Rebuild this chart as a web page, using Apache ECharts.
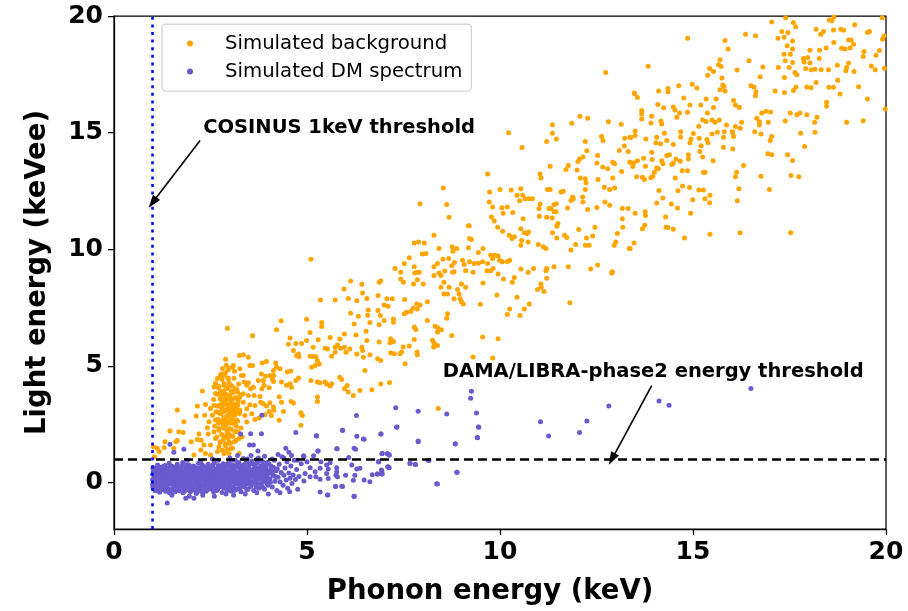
<!DOCTYPE html>
<html>
<head>
<meta charset="utf-8">
<script src="https://cdn.jsdelivr.net/npm/echarts@6/dist/echarts.min.js"></script>
<style>
  html, body { margin: 0; padding: 0; background: #fff; }
  #chart { width: 908px; height: 611px; }
</style>
</head>
<body>
<div id="chart"></div>
<script>
// ---- Axis ranges and ticks ----
const xRange = [0, 20];
const yRange = [-2, 20];
const xTicks = [0, 5, 10, 15, 20];
const yTicks = [0, 5, 10, 15, 20];

// ---- Thresholds (keV / keVee) ----
const cosinusThreshold = 1.0;
const damaThreshold = 1.0;

// ---- Annotations: text anchor and arrow [from, to] ----
const cosinusText = 'COSINUS 1keV threshold';
const cosinusTextAt = [2.31, 15.2];
const cosinusArrow = [[2.23, 14.66], [1.0, 12.0]];
const damaText = 'DAMA/LIBRA-phase2 energy threshold';
const damaTextAt = [8.52, 4.74];
const damaArrow = [[13.93, 4.15], [12.9, 1.0]];

// ---- Simulated background, upper right part of the band ----
const bgHigh = [
[17.04,19.74],[17.40,19.93],[17.60,19.72],[17.66,19.54],[18.53,19.83],[18.60,19.80],[18.65,19.96],[19.90,19.93],[16.36,19.22],[16.62,19.15],
[17.30,19.33],[17.46,19.29],[17.20,19.05],[17.36,19.09],[17.58,18.93],[18.19,19.43],[18.31,19.22],[18.38,19.33],[18.64,19.40],[18.83,19.43],
[18.90,19.39],[19.19,19.62],[19.52,19.29],[19.57,19.33],[19.95,19.15],[19.91,19.0],[14.86,19.05],[15.83,18.95],[15.91,18.58],[17.44,18.72],
[17.58,18.58],[18.65,18.86],[19.03,18.97],[19.10,18.97],[18.85,18.62],[18.94,18.58],[19.07,18.63],[19.16,18.79],[18.45,18.63],[18.28,18.53],
[18.03,18.53],[19.43,18.48],[19.41,18.26],[19.74,18.32],[19.83,18.52],[17.36,18.36],[17.39,18.08],[17.52,18.36],[17.86,18.18],[17.97,18.22],
[17.88,18.03],[18.03,17.98],[18.27,18.18],[17.58,18.01],[17.49,17.79],[17.21,17.79],[17.37,17.36],[17.64,17.58],[17.69,17.48],[17.92,17.75],
[18.06,17.69],[18.16,17.72],[18.32,17.69],[18.51,17.69],[18.74,17.89],[18.96,17.65],[18.98,17.79],[19.03,17.98],[19.17,17.62],[19.62,17.86],
[19.72,17.69],[19.96,17.76],[15.70,18.12],[15.73,17.83],[15.43,17.75],[15.53,17.62],[15.38,17.46],[15.66,17.91],[15.75,17.34],[16.14,17.68],
[16.45,18.08],[16.81,17.81],[16.74,17.39],[13.84,17.85],[14.98,17.07],[15.10,16.91],[14.63,17.01],[14.35,16.89],[14.35,16.75],[14.11,16.78],
[13.49,16.67],[13.56,16.51],[15.77,17.04],[15.70,16.84],[15.83,16.78],[15.80,16.98],[16.50,17.01],[16.58,16.95],[16.63,16.75],[16.62,16.58],
[17.13,16.78],[17.37,16.72],[17.67,16.95],[17.60,16.81],[17.95,16.95],[18.06,16.92],[18.19,17.15],[18.52,16.94],[18.64,16.94],[18.75,17.24],
[18.81,16.65],[19.29,16.97],[19.52,16.44],[19.98,16.01],[14.76,16.48],[14.49,16.10],[14.53,15.97],[14.24,16.07],[14.09,16.21],[13.67,15.95],
[13.67,15.80],[13.67,15.58],[13.93,15.70],[13.91,15.41],[14.17,15.50],[14.19,15.37],[14.92,16.18],[15.20,16.18],[14.86,15.87],[14.58,15.66],
[14.65,15.84],[15.37,15.84],[15.53,16.08],[15.60,16.44],[15.34,16.44],[16.05,16.38],[16.10,16.18],[16.20,16.08],[15.15,15.27],[15.25,15.54],
[15.34,15.48],[15.49,15.54],[15.57,15.44],[15.68,15.54],[15.63,15.01],[15.87,15.33],[15.81,15.04],[16.02,15.04],[16.10,15.26],[16.26,15.44],
[16.22,15.19],[16.65,15.61],[16.72,15.47],[16.72,15.33],[16.60,15.04],[16.76,14.94],[16.78,15.84],[16.89,15.91],[17.01,15.88],[16.95,15.44],
[17.39,15.50],[17.52,15.84],[17.69,15.77],[17.77,15.84],[17.95,15.77],[18.15,15.44],[18.16,15.01],[18.21,15.66],[18.46,16.30],[18.46,16.13],
[18.98,15.44],[19.41,15.51],[17.79,14.97],[17.89,14.40],[13.50,15.07],[13.50,14.87],[13.78,14.73],[14.06,14.80],[14.04,14.56],[14.16,14.52],
[14.26,14.97],[14.32,14.66],[14.49,14.49],[14.68,15.04],[14.68,14.81],[15.01,14.96],[14.95,14.73],[14.92,14.56],[15.16,14.76],[15.21,14.44],
[15.36,14.70],[15.39,14.56],[15.49,14.94],[15.79,14.37],[15.79,14.80],[16.03,14.99],[16.05,14.83],[16.03,14.30],[17.04,14.83],[17.00,14.66],
[16.94,14.09],[17.04,14.05],[17.45,14.05],[17.58,13.80],[16.31,13.59],[16.13,13.30],[16.10,13.11],[16.19,12.59],[16.15,12.08],[16.22,10.71],
[16.76,13.13],[16.98,12.56],[17.54,13.16],[17.74,13.11],[17.53,10.71],[13.37,14.80],[13.37,13.73],[13.44,13.55],[13.54,13.11],[13.56,13.79],
[13.72,13.90],[13.69,13.08],[13.74,12.99],[13.77,13.56],[13.93,14.16],[13.94,13.85],[13.91,13.06],[13.96,13.13],[14.00,13.30],[14.06,13.48],
[14.10,13.45],[14.19,13.79],[14.22,13.66],[14.32,14.02],[14.39,14.05],[14.45,13.63],[14.49,13.70],[14.54,13.05],[14.56,13.87],[14.67,13.77],
[14.72,13.36],[14.86,13.36],[14.88,13.87],[14.88,14.05],[15.18,14.19],[15.25,13.95],[15.27,13.30],[15.31,13.30],[15.52,13.79],[14.73,12.71],
[14.61,12.51],[14.91,12.65],[14.99,12.12],[15.15,12.54],[15.27,12.54],[15.44,12.31],[15.43,11.99],[15.31,12.16],[14.44,11.94],[14.60,11.77],
[14.06,11.98],[14.12,12.52],[14.22,12.19],[14.29,11.38],[14.30,10.94],[14.35,10.93],[14.49,10.85],[14.78,10.48],[14.94,11.54],[15.44,10.64],
[13.76,11.60],[13.77,11.44],[13.75,11.03],[13.69,10.88],[13.50,11.54],[13.47,10.26],[13.37,10.03]
];

// ---- Simulated background, middle of the band ----
const bgMid = [
[12.74,17.58],[13.48,16.70],[10.22,14.99],[10.57,14.36],[11.36,15.34],[11.36,14.97],[11.46,14.73],[11.21,14.62],[11.86,15.40],[12.07,15.70],
[12.27,15.61],[12.81,15.47],[13.14,15.36],[12.63,14.83],[12.67,14.66],[12.21,14.62],[12.25,14.22],[13.23,14.76],[13.39,14.79],[13.22,14.42],
[13.09,14.23],[13.32,14.19],[12.06,13.87],[12.02,13.76],[12.15,13.95],[12.53,14.02],[12.51,13.70],[12.66,13.52],[12.79,13.45],[12.92,13.73],
[12.97,13.66],[13.15,13.33],[13.37,13.73],[13.46,13.70],[11.77,13.59],[11.71,13.42],[12.00,13.40],[11.30,13.56],[11.04,13.22],[11.06,13.05],
[9.68,13.22],[12.08,13.05],[12.21,13.02],[12.23,12.85],[12.54,12.99],[12.70,12.66],[12.92,13.05],[12.84,12.56],[12.97,12.62],[13.32,11.74],
[8.53,12.62],[7.93,11.95],[8.62,11.92],[8.68,11.37],[9.18,11.01],[9.73,12.45],[9.72,12.02],[10.00,12.56],[10.29,12.54],[10.54,12.59],
[10.44,12.31],[10.59,12.31],[10.51,12.08],[10.65,12.16],[10.75,12.16],[10.84,12.16],[9.81,11.81],[9.78,11.38],[9.85,11.21],[10.05,11.78],
[10.19,11.81],[10.33,11.57],[10.08,11.54],[9.94,10.94],[10.07,10.77],[10.24,10.60],[10.31,10.46],[10.37,10.53],[10.54,10.88],[10.60,11.31],
[10.63,10.71],[10.70,10.67],[10.74,10.74],[10.56,10.37],[10.54,10.17],[10.73,10.31],[11.01,11.74],[11.02,11.41],[11.04,11.94],[11.23,12.56],
[11.30,12.56],[11.27,11.74],[11.32,11.74],[11.21,11.37],[11.35,11.34],[11.40,11.92],[11.46,11.95],[11.45,11.60],[11.40,11.60],[11.47,10.98],
[11.50,11.10],[11.36,10.70],[11.47,10.48],[11.58,12.45],[11.64,12.48],[11.88,12.24],[11.84,12.09],[11.75,11.77],[11.90,12.16],[12.14,12.24],
[12.15,12.02],[12.21,12.56],[12.27,11.70],[12.51,11.79],[12.72,12.02],[12.84,11.88],[13.17,11.74],[13.17,11.31],[13.18,10.94],[13.04,10.67],
[13.00,10.31],[12.96,10.17],[13.35,10.03],[12.90,8.99],[12.46,10.94],[12.40,10.57],[12.24,10.48],[12.21,10.17],[12.31,10.17],[12.04,10.84],
[11.96,10.20],[11.84,9.96],[11.67,10.60],[11.73,10.50],[11.77,9.25],[11.21,9.17],[11.40,9.25],[12.53,9.32],[12.91,9.03],[10.87,9.17],
[10.99,10.20],[11.12,10.10],[11.19,10.03],[9.56,10.03],[9.44,9.86],[9.20,11.00],[9.21,10.46],[9.26,10.41],[9.18,10.06],[8.88,10.03],
[8.76,10.10],[8.78,9.91],[8.67,9.60],[8.42,10.03],[8.29,10.60],[8.52,9.57],[8.82,9.43],[9.03,9.52],[9.07,9.34],[9.21,9.46],
[9.33,9.39],[9.44,9.40],[9.55,9.46],[9.68,9.39],[9.76,9.74],[9.81,9.60],[9.87,9.74],[9.95,9.71],[9.99,9.53],[10.06,9.46],
[10.19,9.46],[10.25,9.53],[9.82,9.17],[8.04,10.26],[7.99,9.79],[8.08,9.81],[7.78,10.27],[7.89,10.31],[7.65,9.63],[7.78,9.25],
[7.86,9.00],[7.52,9.39],[7.28,9.17],[8.38,9.39],[8.29,9.25],[8.57,9.06],[8.81,9.03],[8.75,9.29]
];

// ---- Simulated background, lower middle of the band ----
const bgLow = [
[6.87,8.58],[6.91,8.65],[6.84,8.01],[7.00,7.61],[7.07,7.87],[7.10,7.55],[7.21,7.87],[6.84,7.37],[6.90,7.16],[6.87,6.76],
[7.00,6.94],[7.24,7.01],[7.24,6.87],[7.17,6.16],[7.24,6.04],[7.15,5.99],[6.87,6.02],[7.17,5.56],[7.26,5.52],[7.41,5.52],
[6.83,5.30],[6.91,5.23],[7.43,9.01],[7.50,8.58],[7.43,8.72],[7.76,8.51],[7.79,8.98],[7.86,8.69],[8.01,8.51],[7.91,9.01],
[7.53,7.84],[7.58,7.30],[7.52,7.23],[7.69,7.33],[7.75,7.47],[7.84,7.65],[7.93,7.61],[7.86,7.44],[7.78,6.66],[7.82,6.56],
[7.78,6.13],[7.65,5.85],[7.49,5.80],[7.45,5.59],[7.85,5.59],[7.86,5.47],[7.54,5.09],[8.12,6.94],[8.12,7.75],[8.29,8.87],
[8.42,8.98],[8.47,8.87],[8.55,8.58],[8.68,8.37],[8.47,8.37],[8.55,8.08],[8.64,8.08],[8.81,7.87],[8.97,7.87],[9.00,7.75],
[9.05,7.65],[8.94,8.08],[9.00,8.51],[9.11,8.37],[8.90,8.27],[8.77,9.01],[9.11,9.08],[9.30,9.01],[9.56,8.55],[9.66,9.08],
[9.76,9.08],[9.95,8.94],[9.92,8.04],[9.49,7.64],[8.64,7.23],[8.62,7.04],[8.32,6.70],[8.38,6.64],[8.48,6.54],[8.38,6.44],
[8.25,6.09],[8.29,5.99],[8.28,5.80],[8.38,5.87],[8.75,6.30],[9.55,6.23],[9.95,6.16],[9.30,5.38],[9.81,5.33],[6.91,4.22],
[7.14,4.28],[8.40,3.17],[10.09,8.72],[10.32,8.58],[10.37,8.79],[10.44,7.94],[10.54,9.15],[10.73,9.01],[10.76,7.65],[10.63,7.44],
[10.52,7.16],[10.19,7.20],[10.25,7.44],[10.97,8.27],[11.06,8.51],[11.07,8.37],[11.14,8.18],[11.21,8.75],[11.19,9.08],[11.81,7.70],
[12.35,9.15],[12.89,8.98]
];

// ---- Simulated background, rising part above 3 keV ----
const bgRise = [
[5.10,9.57],[4.33,6.93],[4.21,6.55],[3.59,6.29],[4.99,7.00],[5.35,7.82],[5.73,7.82],[5.38,6.86],[5.38,6.68],[4.56,6.19],
[4.52,5.92],[4.71,5.96],[4.86,5.96],[4.99,6.08],[5.08,6.43],[5.29,6.12],[5.16,5.79],[5.60,6.21],[5.85,6.15],[5.97,6.36],
[6.07,7.89],[6.13,8.64],[5.96,8.29],[6.42,8.50],[6.44,8.12],[6.29,7.79],[6.13,7.25],[6.33,7.12],[6.22,6.79],[6.27,6.32],
[6.55,7.89],[6.59,7.39],[6.57,7.17],[6.63,6.86],[6.53,6.48],[6.55,6.08],[5.97,5.79],[5.79,5.89],[5.73,5.79],[5.73,5.58],
[5.87,5.75],[5.64,5.41],[5.53,5.72],[5.47,5.75],[6.11,5.72],[6.01,5.58],[6.42,5.79],[6.44,5.65],[6.29,5.51],[6.46,5.37],
[6.63,5.47],[5.08,5.41],[5.16,5.41],[5.23,5.39],[5.27,5.22],[5.32,5.08],[5.21,5.01],[5.12,4.94],[4.78,5.51],[4.73,5.44],
[4.65,5.65],[4.79,5.39],[4.58,4.78],[4.49,4.73],[4.78,4.48],[4.71,4.37],[4.56,4.23],[4.47,4.16],[4.60,4.08],[4.34,4.30],
[4.19,5.12],[4.21,4.94],[4.13,4.80],[4.30,4.87],[4.14,4.58],[3.95,5.18],[3.84,5.12],[3.82,4.65],[3.74,4.37],[3.87,4.37],
[3.93,4.55],[4.04,4.58],[4.10,4.44],[4.13,4.33],[4.02,4.06],[3.89,4.16],[3.83,4.01],[3.78,3.68],[3.80,3.44],[3.87,3.37],
[4.04,3.41],[4.13,3.23],[4.14,3.09],[4.02,3.04],[3.95,3.27],[4.34,3.44],[4.28,3.67],[4.39,3.04],[4.59,3.47],[4.65,3.40],
[4.84,2.99],[4.88,2.87],[4.84,2.45],[4.28,2.66],[3.76,2.76],[3.91,2.90],[4.08,2.87],[5.10,4.37],[5.27,4.30],[5.34,4.27],
[5.47,4.30],[5.51,4.21],[5.64,4.23],[5.60,4.13],[5.27,3.66],[5.27,3.47],[5.85,4.51],[5.90,4.41],[6.04,4.15],[5.97,4.01],
[6.07,3.87],[6.20,3.73],[6.37,3.94],[6.68,3.97],[6.50,4.80],[3.35,5.47],[3.48,5.37],[3.25,5.44],[3.09,5.01],[3.26,4.87],
[3.52,5.01],[3.59,5.01],[3.35,4.58],[3.37,4.30],[3.48,4.27],[3.44,4.16],[3.54,4.01],[3.61,4.08],[3.63,3.73],[3.48,3.73],
[3.35,3.80],[3.26,3.66],[3.35,3.44],[3.52,3.33],[3.65,3.30],[3.44,3.16],[3.39,2.87],[3.57,2.94],[3.65,2.70],[3.26,3.09],
[3.18,2.66],[3.44,2.59]
];

// ---- Simulated background, low-energy part below 3.4 keV ----
const bgLeft = [
[2.94,6.61],[2.29,3.92],[2.16,3.27],[2.13,2.85],[2.37,3.34],[2.35,2.88],[2.46,2.60],[2.42,2.34],[2.16,1.84],[2.26,1.81],
[2.33,1.60],[2.50,1.60],[2.44,2.07],[2.59,4.09],[2.63,3.81],[2.68,4.45],[2.76,4.59],[2.89,5.28],[2.91,5.02],[2.81,4.88],
[2.98,4.88],[2.85,4.24],[2.94,4.02],[2.75,3.59],[2.81,3.31],[2.59,3.31],[2.50,3.17],[2.55,2.88],[2.68,3.02],[2.63,2.67],
[2.76,2.63],[2.72,2.31],[2.59,2.17],[2.63,1.88],[2.76,1.74],[2.72,1.53],[2.68,1.32],[2.85,1.24],[2.94,1.39],[2.89,1.63],
[2.85,1.96],[2.94,2.17],[2.85,2.45],[2.92,2.81],[2.88,3.10],[2.94,3.31],[2.98,3.67],[2.89,3.59],[2.81,3.88],[2.72,4.02],
[2.85,4.59],[2.95,4.45],[2.98,4.16],[2.98,3.02],[2.98,2.60],[2.98,1.74],[2.50,1.17],[1.81,2.60],[1.64,3.10],[1.79,2.14],
[1.68,2.17],[1.45,2.20],[1.60,1.74],[1.64,1.79],[1.55,1.46],[1.32,1.74],[1.30,1.49],[1.12,1.46],[1.17,1.32],[1.02,1.53],
[1.05,1.10],[2.20,2.07],[2.00,1.74],[2.07,1.17],[2.25,1.39],[2.37,1.24],[3.11,1.74],[3.02,2.03],[3.07,1.46],[3.20,2.17],
[3.32,1.96],[2.98,1.24],[3.24,1.24]
];

// ---- Simulated background, dense core of the low-energy cluster ----
const bgCore = [
[2.58,3.55],[2.61,2.42],[2.64,3.02],[2.66,1.95],[2.68,3.78],[2.69,2.71],[2.71,4.12],[2.72,2.23],[2.74,3.31],[2.75,1.71],
[2.77,2.93],[2.78,3.66],[2.79,2.05],[2.80,4.41],[2.81,2.58],[2.82,3.14],[2.83,1.82],[2.84,3.92],[2.85,2.77],[2.86,2.31],
[2.87,3.47],[2.88,4.68],[2.89,1.56],[2.90,3.07],[2.91,2.49],[2.92,4.03],[2.93,2.12],[2.94,3.58],[2.95,2.86],[2.96,1.90],
[2.97,3.23],[2.98,4.27],[2.99,2.64],[3.00,3.71],[3.01,1.67],[3.02,2.97],[3.03,3.44],[3.04,2.28],[3.05,4.14],[3.06,2.72],
[3.07,3.85],[3.08,1.98],[3.09,3.12],[3.10,2.51],[3.11,4.46],[3.12,3.36],[3.13,2.18],[3.14,2.89],[3.15,3.63],[3.16,1.79],
[3.17,2.41],[3.18,3.98],[3.19,3.03],[3.20,2.63],[3.22,3.51],[3.23,4.22],[3.25,2.95],[3.27,3.75],[3.29,2.33],[3.30,4.58],
[2.73,2.99],[2.76,3.84],[2.80,3.42],[2.83,2.41],[2.87,3.79],[2.90,2.78],[2.93,3.34],[2.96,4.48],[2.99,3.07],[3.02,2.55],
[3.05,3.57],[3.08,2.86],[3.11,3.27],[3.14,4.02],[3.17,3.21],[3.20,3.87],[2.77,3.22],[2.85,4.15],[2.92,3.76],[2.98,2.31],
[3.04,3.92],[3.10,2.98],[3.16,2.60],[3.21,3.33],[2.67,3.28],[2.71,2.55],[2.78,4.65],[2.86,1.95],[2.95,4.82],[3.03,1.45],
[3.12,4.77],[3.24,1.88],[2.63,4.25],[2.81,1.38],[3.07,4.95],[2.96,2.06],[2.89,2.62],[3.01,3.25],[2.84,3.03],[3.13,3.62]
];

// ---- Simulated DM spectrum, main blob just above threshold ----
const dmBlob = [
[1.00,0.12],[1.01,-0.22],[1.02,0.45],[1.03,-0.05],[1.04,0.31],[1.05,0.62],[1.06,-0.35],[1.07,0.18],[1.08,0.02],[1.09,0.52],
[1.10,-0.15],[1.12,0.35],[1.13,0.74],[1.14,-0.28],[1.15,0.08],[1.17,0.48],[1.18,-0.42],[1.19,0.22],[1.20,-0.08],[1.22,0.65],
[1.23,0.38],[1.24,-0.20],[1.25,0.12],[1.27,0.55],[1.28,-0.32],[1.29,0.28],[1.30,-0.02],[1.32,0.72],[1.33,0.15],[1.34,-0.38],
[1.35,0.42],[1.37,-0.12],[1.38,0.58],[1.39,0.05],[1.40,-0.25],[1.42,0.33],[1.43,0.82],[1.44,-0.45],[1.45,0.18],[1.47,0.50],
[1.48,-0.06],[1.49,0.25],[1.50,-0.30],[1.52,0.68],[1.53,0.10],[1.54,0.40],[1.55,-0.18],[1.57,0.60],[1.58,-0.40],[1.59,0.20],
[1.60,0.02],[1.62,0.46],[1.63,-0.27],[1.64,0.78],[1.65,0.13],[1.67,-0.10],[1.68,0.36],[1.69,0.62],[1.70,-0.36],[1.72,0.22],
[1.73,-0.02],[1.74,0.52],[1.75,-0.20],[1.77,0.30],[1.78,0.85],[1.79,-0.45],[1.80,0.08],[1.82,0.44],[1.83,-0.13],[1.84,0.67],
[1.85,0.16],[1.87,-0.32],[1.88,0.38],[1.89,0.00],[1.90,0.56],[1.92,-0.24],[1.93,0.25],[1.94,0.75],[1.95,-0.07],[1.97,0.41],
[1.98,-0.40],[1.99,0.14],[2.00,0.60],[2.02,-0.15],[2.03,0.32],[2.04,0.05],[2.05,0.70],[2.07,-0.33],[2.08,0.20],[2.09,0.48],
[2.10,-0.05],[2.12,0.37],[2.13,-0.48],[2.14,0.10],[2.15,0.62],[2.17,-0.22],[2.18,0.28],[2.19,0.82],[2.20,0.00],[2.22,0.46],
[2.23,-0.30],[2.24,0.17],[2.25,0.55],[2.27,-0.10],[2.28,0.35],[2.29,-0.42],[2.30,0.72],[2.32,0.08],[2.33,0.42],[2.34,-0.18],
[2.35,0.25],[2.37,0.60],[2.38,-0.03],[2.39,0.33],[2.40,-0.35],[2.42,0.50],[2.43,0.12],[2.44,0.78],[2.45,-0.20],[2.47,0.30],
[2.48,0.04],[2.49,0.57],[2.50,-0.28],[2.52,0.20],[2.53,0.45],[2.54,-0.08],[2.55,0.68],[2.57,0.10],[2.58,-0.40],[2.59,0.36],
[2.60,0.85],[2.62,-0.15],[2.63,0.25],[2.64,0.55],[2.65,-0.02],[2.67,0.40],[2.68,-0.30],[2.69,0.15],[2.70,0.72],[2.72,0.03],
[2.73,0.48],[2.74,-0.20],[2.75,0.30],[2.77,0.62],[2.78,-0.06],[2.79,0.20],[2.80,-0.44],[2.82,0.42],[2.83,0.80],[2.84,0.08],
[2.85,-0.25],[2.87,0.35],[2.88,0.58],[2.89,-0.10],[2.90,0.22],[2.92,0.70],[2.93,-0.35],[2.94,0.12],[2.95,0.45],[2.97,-0.02],
[2.98,0.30],[2.99,0.90],[3.00,-0.15],[3.02,0.52],[3.03,0.18],[3.04,-0.38],[3.05,0.38],[3.07,0.75],[3.08,0.00],[3.09,0.28],
[3.10,-0.22],[3.12,0.60],[3.13,0.10],[3.14,0.95],[3.15,-0.08],[3.17,0.42],[3.18,0.20],[3.19,-0.30],[3.20,0.65],[3.22,0.05],
[3.23,0.33],[3.24,0.82],[3.25,-0.12],[3.27,0.50],[3.28,0.15],[3.29,-0.40],[3.30,0.25],[3.32,0.70],[3.33,-0.02],[3.34,0.40],
[3.35,1.02],[3.37,0.12],[3.38,-0.20],[3.39,0.55],[3.40,0.30],[3.42,0.85],[3.43,-0.08],[3.44,0.20],[3.45,0.62],[3.47,-0.30],
[3.48,0.38],[3.49,0.05],[3.50,0.75],[3.52,0.15],[3.54,-0.18],[3.55,0.45],[3.57,0.92],[3.59,0.02],[3.60,0.30],[3.62,-0.35],
[3.64,0.60],[3.65,0.18],[3.67,0.80],[3.69,-0.05],[3.70,0.40],[3.72,0.12],[3.74,1.05],[3.75,-0.25],[3.77,0.55],[3.79,0.25],
[3.80,0.70],[3.82,-0.10],[3.84,0.35],[3.85,0.90],[3.87,0.05],[3.89,0.48],[3.90,-0.30],[3.92,0.22],[3.94,0.65],[3.95,0.10],
[3.97,0.85],[3.99,-0.12],[4.02,0.40],[4.04,0.15],[4.07,0.70],[4.10,-0.20],[4.12,0.30],[4.15,0.95],[4.17,0.05],[4.20,0.50],
[4.22,-0.35],[4.25,0.22],[4.28,0.78],[4.30,0.02],[4.33,0.42],[4.35,1.10],[4.38,-0.12],[4.40,0.30],[4.43,0.62],[4.46,0.10],
[4.48,0.88],[4.50,-0.25],[4.53,0.40],[4.56,0.18],[4.58,0.70],[4.61,-0.05],[4.64,0.32],[4.67,0.95],[4.70,0.12],[4.73,0.55],
[4.76,-0.30],[4.79,0.25]
];

// ---- Simulated DM spectrum, densest band of the blob ----
const dmCore = [
[1.05,0.25],[1.11,0.00],[1.16,0.32],[1.21,0.10],[1.26,-0.12],[1.31,0.40],[1.36,0.20],[1.41,0.00],[1.46,0.35],[1.51,0.12],
[1.56,-0.05],[1.61,0.30],[1.66,0.45],[1.71,0.05],[1.76,0.15],[1.81,-0.25],[1.86,0.52],[1.91,0.18],[1.96,0.30],[2.01,0.10],
[2.06,0.42],[2.11,0.22],[2.16,-0.10],[2.21,0.30],[2.26,0.15],[2.31,-0.22],[2.36,0.48],[2.41,0.05],[2.46,0.40],[2.51,0.08],
[2.56,0.30],[2.61,0.12],[2.66,0.22],[2.71,-0.15],[2.76,0.45],[2.81,0.10],[2.86,0.25],[2.91,0.40],[2.96,0.20],[3.01,0.35],
[3.06,0.12],[3.11,0.45],[3.16,0.28],[3.21,-0.05],[3.26,0.32],[3.31,0.48],[3.36,0.35],[3.41,0.10],[3.46,0.45],[3.51,0.35],
[3.56,0.25],[3.61,0.50],[3.66,0.38],[3.71,0.62],[3.76,0.15],[3.81,0.45],[3.86,0.60],[3.91,0.40],[3.96,0.30],[4.06,0.55],
[1.00,0.35],[1.00,-0.10],[1.01,0.60],[1.02,0.05],[1.04,-0.12],[1.06,0.38],[1.08,0.55],[1.10,0.20],[1.12,-0.35],[1.14,0.45],
[1.16,-0.02],[1.18,0.62],[1.20,0.30],[1.22,-0.22],[1.24,0.50],[1.26,0.22],[1.28,0.68],[1.30,0.15],[1.32,-0.15],[1.34,0.30],
[1.36,0.60],[1.38,-0.30],[1.40,0.48],[1.42,-0.05],[1.44,0.25],[1.46,0.70],[1.48,-0.35],[1.50,0.40],[1.52,-0.12],[1.54,0.08],
[1.56,0.55],[1.58,0.28],[1.60,-0.20],[1.62,0.65],[1.64,0.10],[1.66,-0.35],[1.68,0.20],[1.70,0.50],[1.72,-0.12],[1.74,0.35],
[1.76,0.70],[1.78,-0.05],[1.80,0.28],[1.82,-0.38],[1.84,0.50],[1.86,0.00],[1.88,0.75],[1.90,-0.15],[1.92,0.40],[1.94,0.12],
[1.96,-0.30],[1.98,0.62],[2.00,0.25],[2.02,0.48],[2.04,-0.25],[2.06,0.15],[2.08,0.68],[2.10,0.35],[2.12,-0.12],[2.14,0.50],
[2.16,0.20],[2.18,-0.38],[2.20,0.60],[2.22,0.10],[2.24,-0.10],[2.26,0.42],[2.28,0.75],[2.30,-0.20],[2.32,0.30],[2.34,0.55],
[2.36,0.05],[2.38,-0.38],[2.40,0.20],[2.42,0.70],[2.44,-0.10],[2.46,0.15],[2.48,0.45],[2.50,0.62],[2.52,-0.18],[2.54,0.30],
[2.56,0.75],[2.58,0.05],[2.60,-0.25],[2.62,0.50],[2.64,0.20],[2.66,-0.35],[2.68,0.62],[2.70,0.30],[2.72,-0.08],[2.74,0.70],
[2.76,0.12],[2.78,0.40],[2.80,-0.20],[2.82,0.25],[2.84,0.60],[2.86,-0.05],[2.88,0.15],[2.90,0.48],[2.92,-0.22],[2.94,0.80],
[2.96,0.35],[2.98,-0.30],[3.00,0.55],[3.02,0.10],[3.04,0.70],[3.06,-0.20],[3.08,0.45],[3.10,0.20],[3.12,-0.35],[3.14,0.32],
[3.16,0.72],[3.18,-0.05],[3.20,0.40],[3.22,0.85],[3.24,0.10],[3.26,-0.25],[3.28,0.62],[3.30,0.02],[3.32,0.38],[3.34,-0.15],
[3.36,0.75],[3.38,0.22],[3.40,-0.02],[3.42,0.50],[3.44,-0.32],[3.46,0.25],[3.48,0.80],[3.50,0.00],[3.53,0.55],[3.56,-0.10],
[3.58,0.35],[3.61,0.78],[3.63,0.05],[3.66,0.50],[3.68,-0.20],[3.71,0.30],[3.73,0.85],[3.76,0.40],[3.78,-0.05],[3.81,0.60],
[3.83,0.18],[3.86,-0.22],[3.88,0.72],[3.91,0.25],[3.93,0.52],[3.96,-0.05],[3.98,0.45],[4.01,0.80],[4.05,0.00],[4.09,0.45],
[4.13,0.65],[4.18,0.25],[4.23,0.58]
];

// ---- Simulated DM spectrum, fringe of the blob ----
const dmFringe = [
[1.90,0.95],[2.25,0.90],[2.55,1.00],[2.70,0.95],[3.00,1.05],[3.05,0.95],[3.20,1.15],[3.45,1.00],[3.55,1.15],[3.70,0.98],
[3.90,1.12],[4.10,1.00],[4.25,1.20],[4.40,1.05],[4.60,1.15],[4.75,0.95],[4.85,0.80],
[1.50,-0.55],[1.95,-0.60],[2.30,-0.55],[2.60,-0.60],[2.90,-0.50],[3.10,-0.55],[3.40,-0.50],[3.70,-0.45],[4.00,-0.50],[4.30,-0.45],
[4.55,-0.40],[1.38,-0.89],[1.86,-0.68],[2.07,-0.68]
];

// ---- Simulated DM spectrum, sparse tail towards higher energies ----
const dmTail = [
[6.28,2.87],[5.92,2.24],[6.46,1.86],[6.22,1.46],[5.24,2.00],[5.77,1.44],[4.71,2.14],[3.83,2.88],[3.54,2.08],[3.82,2.08],
[3.28,2.07],[1.45,1.63],[1.81,1.42],[1.55,1.29],[3.51,1.60],[3.73,1.34],[3.61,1.60],[5.28,1.34],[4.45,1.46],[4.53,1.29],
[4.92,1.10],[6.22,-0.61],[5.53,-0.54],[5.74,-0.18],[5.92,-0.18],
[5.25,1.99],[5.92,2.24],[6.29,1.98],[6.48,1.85],[6.92,2.07],[7.32,2.36],[7.88,1.74],[8.84,1.65],[9.41,1.92],[9.45,2.36],
[4.91,1.14],[5.17,1.14],[5.29,1.34],[5.78,1.44],[6.26,1.42],[6.08,1.07],[6.95,1.24],[7.08,1.23],[7.13,1.17],[6.86,0.87],
[7.11,0.66],[6.94,0.49],[6.93,0.36],[6.82,0.36],[6.69,0.33],[6.63,0.03],[6.48,0.10],[6.20,0.09],[6.24,0.31],[6.37,0.60],
[6.29,0.57],[6.16,0.74],[6.00,0.31],[5.90,-0.17],[5.74,-0.17],[5.54,-0.54],[5.34,-0.41],[6.22,-0.60],[5.77,0.63],[5.77,0.46],
[5.75,0.31],[5.79,0.24],[5.55,0.57],[5.55,0.17],[5.51,0.38],[5.34,0.60],[5.34,0.13],[5.21,0.46],[5.23,0.24],[5.08,0.63],
[5.08,0.24],[4.95,0.38],[4.92,0.06],[5.00,0.88],[5.36,0.88],[5.51,0.74],[5.60,0.84],[7.67,0.81],[7.81,0.77],[8.14,0.95],
[8.88,0.43],[8.36,-0.06],
[7.30,3.20],[7.33,2.37],[6.91,2.07],[7.88,3.05],[7.88,1.77],[8.62,2.93],[8.84,1.66],[9.26,3.91],[9.24,3.61],[9.39,2.98],
[9.44,2.37],[9.42,1.91],[11.05,2.60],[11.26,1.99],[12.06,2.14],[12.25,2.63],[12.82,3.27],[6.94,1.24],[7.09,1.23],[7.13,1.17],
[6.85,0.89],[6.93,0.53],[6.83,0.36],[6.95,0.36],[7.09,0.67],[7.13,0.63],[7.67,0.82],[7.81,0.77],[8.16,0.94],[8.89,0.43],
[8.38,-0.07],[14.12,3.49],[14.38,3.31],[16.50,4.02]
];

const backgroundPoints = [].concat(bgHigh, bgMid, bgLow, bgRise, bgLeft, bgCore);
const dmPoints = [].concat(dmBlob, dmCore, dmFringe, dmTail);

const FONT = '"DejaVu Sans", sans-serif';
const chart = echarts.init(document.getElementById('chart'), null, { renderer: 'canvas' });

const axisCommon = {
  axisLine: { show: true, onZero: false, lineStyle: { color: '#000', width: 1.25 } },
  axisTick: { show: true, inside: false, length: 6, lineStyle: { color: '#000', width: 1.25 } },
  splitLine: { show: false },
  nameLocation: 'middle'
};
const tickFont = { fontFamily: FONT, fontWeight: 'bold', fontSize: 25, color: '#000', margin: 11 };

chart.setOption({
  animation: false,
  backgroundColor: '#fff',
  grid: { left: 114, right: 22, top: 16, bottom: 80, show: true, borderColor: '#000', borderWidth: 1.25, backgroundColor: 'transparent' },
  legend: {
    left: 162, top: 24,
    orient: 'vertical',
    padding: [9, 9, 9, 25],
    itemGap: 7,
    itemWidth: 6, itemHeight: 6,
    backgroundColor: '#fff',
    borderColor: '#d0d0d0', borderWidth: 1.25, borderRadius: 4,
    data: [
      { name: 'Simulated background', icon: 'circle' },
      { name: 'Simulated DM spectrum', icon: 'circle' }
    ],
    textStyle: { fontFamily: FONT, fontSize: 19.7, color: '#000', padding: [0, 0, 0, 27], lineHeight: 21 }
  },
  xAxis: Object.assign({}, axisCommon, {
    type: 'value', min: xRange[0], max: xRange[1], interval: 5,
    name: 'Phonon energy (keV)', nameGap: 49,
    nameTextStyle: { fontFamily: FONT, fontWeight: 'bold', fontSize: 27.5, color: '#000', padding: [0, 20, 0, 0] },
    axisLabel: Object.assign({ customValues: xTicks }, tickFont)
  }),
  yAxis: Object.assign({}, axisCommon, {
    type: 'value', min: yRange[0], max: yRange[1],
    name: 'Light energy (keVee)', nameGap: 62,
    nameTextStyle: { fontFamily: FONT, fontWeight: 'bold', fontSize: 27.5, color: '#000' },
    axisTick: Object.assign({}, axisCommon.axisTick, { customValues: yTicks }),
    axisLabel: Object.assign({ customValues: yTicks }, tickFont)
  }),
  series: [
    {
      name: 'Simulated background', type: 'scatter', data: backgroundPoints,
      symbolSize: 5, itemStyle: { color: '#FFA500', opacity: 1 }, z: 2, silent: true
    },
    {
      name: 'Simulated DM spectrum', type: 'scatter', data: dmPoints,
      symbolSize: 5, itemStyle: { color: '#6A5ACD', opacity: 1 }, z: 3, silent: true
    },
    {
      name: 'thresholds', type: 'line', data: [], z: 5, silent: true,
      markLine: {
        silent: true, animation: false, precision: 3,
        label: { show: false },
        data: [
          [
            { coord: [cosinusThreshold, yRange[0]], symbol: 'none', lineStyle: { color: '#0000FF', width: 2.5, type: [3, 4.6] } },
            { coord: [cosinusThreshold, yRange[1]], symbol: 'none' }
          ],
          [
            { coord: [xRange[0], damaThreshold], symbol: 'none', lineStyle: { color: '#000', width: 2.5, type: [9, 5] } },
            { coord: [xRange[1], damaThreshold], symbol: 'none' }
          ],
          [
            { coord: cosinusArrow[0], symbol: 'none', lineStyle: { color: '#000', width: 1.6, type: 'solid' } },
            { coord: cosinusArrow[1], symbol: 'triangle', symbolSize: [9, 13] }
          ],
          [
            { coord: damaArrow[0], symbol: 'none', lineStyle: { color: '#000', width: 1.6, type: 'solid' } },
            { coord: damaArrow[1], symbol: 'triangle', symbolSize: [9, 13] }
          ]
        ]
      }
    }
  ]
});

// Annotation captions placed through the chart's own coordinate system
function captionAt(text, at) {
  const p = chart.convertToPixel({ gridIndex: 0 }, at);
  return {
    type: 'text', x: p[0], y: p[1], z: 10,
    style: { text: text, fontFamily: FONT, fontWeight: 'bold', fontSize: 19.5, fill: '#000',
      textAlign: 'left', textVerticalAlign: 'middle' }
  };
}
chart.setOption({
  graphic: [captionAt(cosinusText, cosinusTextAt), captionAt(damaText, damaTextAt)]
});
</script>
</body>
</html>
